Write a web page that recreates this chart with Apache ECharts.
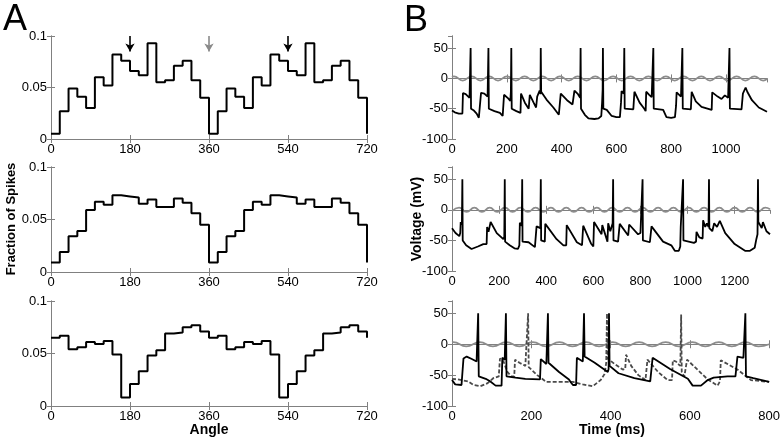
<!DOCTYPE html>
<html><head><meta charset="utf-8">
<script src="https://cdn.jsdelivr.net/npm/echarts@6/dist/echarts.min.js"></script>
<style>html,body{margin:0;padding:0;background:#fff}#c{width:783px;height:439px}</style>
</head><body><div id="c"></div>
<script>
// ---------- Panel A: phase histograms (one 360° cycle, shown twice) ----------
const angleBins = [0,20,40,60,80,100,120,140,160,180,200,220,240,260,280,300,320,340,
                   360,380,400,420,440,460,480,500,520,540,560,580,600,620,640,660,680,700];
const histTop = [0.005,0.027,0.049,0.041,0.030,0.060,0.052,0.082,0.076,0.066,0.062,0.093,0.055,0.057,0.071,0.076,0.057,0.040];
const histMid = [0.009,0.019,0.034,0.039,0.059,0.067,0.064,0.073,0.072,0.071,0.065,0.069,0.062,0.062,0.070,0.066,0.056,0.045];
const histBot = [0.065,0.067,0.054,0.056,0.061,0.059,0.062,0.049,0.008,0.021,0.033,0.048,0.053,0.069,0.070,0.075,0.077,0.071];
const arrowAngles = [180,360,540];

// ---------- Panel B: voltage traces [time ms, mV] ----------
const voltTop = [[0,-53],[10,-56],[25,-58],[38,-58],[40,-24],[50,-26],[64,-32],[67,-30],[68,50],[69.5,-50],[80,-53],[90,-58],[98,-65],[104,-66],[106,-24],[118,-25],[130,-30],[132,-28],[133,50],[134.5,-50],[155,-54],[175,-57],[185,-62],[188,-64],[190,-27],[205,-33],[213,-37],[215,-22],[216.5,50],[218,-50],[235,-54],[250,-57],[252,-25],[266,-40],[280,-50],[282,-52],[284,-27],[298,-40],[307,-48],[309,-50],[311,-30],[320,-20],[323,-26],[324,50],[325.5,-22],[345,-35],[370,-48],[390,-60],[394,-62],[397,-25],[420,-36],[440,-43],[445,-45],[447,-20],[460,-26],[468,-32],[469.5,50],[471,-50],[485,-60],[498,-66],[520,-67],[535,-66],[545,-62],[548,-40],[550,-18],[551,50],[552.5,-50],[565,-52],[583,-62],[600,-64],[613,-64],[617,-40],[619,-21],[627,-25],[629,50],[630.5,-50],[662,-51],[664,-52],[666,-22],[685,-40],[702,-50],[707,-54],[709,-22],[720,-27],[729,-31],[733,-30],[735,50],[736.5,-50],[771,-52],[783,-64],[800,-65],[814,-64],[818,-45],[820,-23],[836,-30],[840,-28],[841,50],[842.5,-50],[872,-51],[875,-22],[890,-38],[911,-47],[948,-52],[950,-23],[970,-30],[984,-34],[996,-28],[1008,-32],[1012,-30],[1013,50],[1014.5,-50],[1057,-51],[1062,-25],[1065,-22],[1072,-15],[1078,-22],[1095,-36],[1120,-48],[1150,-55]];
const voltMid = [[0,-30],[15,-38],[31,-43],[35,-38],[37,-20],[42,-24],[44,50],[45.5,-50],[60,-58],[83,-64],[110,-60],[133,-56],[147,-56],[149,-28],[155,-36],[158,-34],[164,-20],[190,-38],[218,-48],[222,-44],[224,50],[225.5,-52],[245,-58],[265,-63],[280,-64],[286,-58],[288,-21],[296,-26],[298,50],[299.5,-52],[325,-53],[352,-61],[357,-60],[359,-27],[375,-30],[377,50],[378.5,-50],[394,-52],[396,-23],[444,-48],[473,-58],[485,-58],[487,-25],[530,-53],[552,-58],[557,-26],[590,-55],[600,-60],[603,-20],[635,-40],[638,-25],[660,-52],[663,-22],[672,-35],[678,-36],[682,-22],[684,50],[685.5,-50],[705,-52],[710,-53],[712,-23],[748,-42],[752,-24],[790,-40],[800,-38],[807,-40],[809,50],[810.5,-50],[840,-53],[845,-54],[847,-27],[896,-52],[931,-58],[946,-67],[963,-67],[969,-60],[971,-28],[979,-30],[981,50],[982.5,-50],[1027,-54],[1036,-52],[1038,-36],[1050,-45],[1064,-47],[1066,-17],[1075,-28],[1082,-22],[1089,-28],[1091,50],[1092.5,-30],[1105,-35],[1110,-38],[1113,-22],[1125,-28],[1133,-30],[1137,-18],[1160,-38],[1200,-56],[1244,-67],[1265,-67],[1285,-62],[1292,-48],[1297,-40],[1299,50],[1300.5,-20],[1315,-30],[1320,-20],[1335,-35],[1350,-40]];
const voltBotA = [[0,-58],[8,-65],[24,-66],[27,-40],[29,-23],[37,-20],[50,-24],[62,-28],[65,-30],[66,50],[67.5,-52],[85,-56],[96,-60],[110,-67],[125,-67],[127,-22],[133,-25],[135,-28],[136,50],[137.5,-52],[160,-54],[185,-56],[222,-57],[224,-24],[238,-32],[241,-30],[242,50],[243.5,-30],[270,-45],[295,-57],[300,-62],[305,-66],[313,-66],[315,-22],[330,-28],[332,-26],[333,50],[334.5,-20],[360,-30],[393,-45],[395,-40],[396,50],[397.5,-35],[420,-47],[460,-55],[500,-60],[504,-63],[506,-22],[550,-40],[595,-56],[607,-67],[628,-67],[645,-58],[660,-54],[695,-52],[698,-50],[715,-52],[718,-55],[720,-20],[735,-22],[739,-24],[740,50],[741.5,-52],[760,-55],[800,-61]];
const voltBotB = [[0,-56],[15,-57],[40,-60],[54,-66],[71,-68],[90,-63],[104,-55],[118,-52],[121,-23],[130,-28],[140,-45],[150,-52],[157,-52],[159,-25],[170,-30],[185,-35],[190,-36],[192,50],[193.5,-37],[215,-50],[238,-61],[305,-61],[330,-65],[355,-68],[375,-58],[385,-48],[389,-30],[391,50],[392.5,-23],[410,-32],[431,-41],[437,-40],[439,-17],[452,-35],[470,-50],[488,-58],[491,-58],[493,-25],[520,-45],[544,-58],[555,-58],[557,-26],[565,-28],[570,-32],[576,-35],[578,48],[579.5,-45],[586,-52],[591,-50],[593,-25],[645,-57],[670,-67],[676,-60],[678,-26],[720,-41],[754,-58],[800,-61]];
// stimulus (gray) extrema [time ms, mV]
const stimTop = [[0,2.5],[7,3.5],[39,-3.5],[72,3.5],[104,-3.5],[136,3.5],[168,-3.5],[201,3.5],[233,-3.5],[265,3.5],[297,-3.5],[330,3.5],[362,-3.5],[394,3.5],[426,-3.5],[459,3.5],[491,-3.5],[523,3.5],[555,-3.5],[588,3.5],[620,-3.5],[652,3.5],[684,-3.5],[717,3.5],[749,-3.5],[781,3.5],[813,-3.5],[846,3.5],[878,-3.5],[910,3.5],[942,-3.5],[975,3.5],[1007,-3.5],[1039,3.5],[1071,-3.5],[1104,3.5],[1136,-3.5],[1150,-1]];
const stimMid = [[0,-2],[30,3.5],[62,-3.5],[95,3.5],[127,-3.5],[160,3.5],[192,-3.5],[225,3.5],[257,-3.5],[290,3.5],[322,-3.5],[355,3.5],[387,-3.5],[420,3.5],[452,-3.5],[485,3.5],[517,-3.5],[550,3.5],[582,-3.5],[615,3.5],[647,-3.5],[680,3.5],[712,-3.5],[745,3.5],[777,-3.5],[810,3.5],[842,-3.5],[875,3.5],[907,-3.5],[940,3.5],[972,-3.5],[1005,3.5],[1037,-3.5],[1070,3.5],[1102,-3.5],[1135,3.5],[1167,-3.5],[1200,3.5],[1232,-3.5],[1265,3.5],[1297,-3.5],[1330,3.5],[1350,1]];
const stimBot = [[0,3.3],[3,3.5],[36,-3.5],[70,3.5],[103,-3.5],[137,3.5],[170,-3.5],[204,3.5],[237,-3.5],[271,3.5],[304,-3.5],[338,3.5],[371,-3.5],[405,3.5],[438,-3.5],[472,3.5],[505,-3.5],[539,3.5],[572,-3.5],[606,3.5],[639,-3.5],[673,3.5],[706,-3.5],[740,3.5],[773,-3.5],[800,0]];
const timeMax = [1150,1350,800];

// ---------- layout ----------
const FONT = 'Liberation Sans, Arial, Helvetica, sans-serif';
const AXC = '#808080';
const grids = [
  {left:51, top:36, width:316, height:103},
  {left:51, top:167, width:316, height:105},
  {left:51, top:301, width:316, height:105},
  {left:452, top:36, width:315, height:103},
  {left:452, top:167, width:318, height:104},
  {left:452, top:301, width:318, height:105}
];
const xAxes = [], yAxes = [];
const plain = v => String(v);
function addAxes(min, max, interval, ymin, ymax, yint, showMaxX, showMaxY) {
  const g = xAxes.length / 2;
  const line = {show:true, lineStyle:{color:AXC, width:1}};
  const tick = {show:true, inside:true, length:4, lineStyle:{color:AXC}};
  xAxes.push({gridIndex:g, type:'value', position:'bottom', min, max, interval, axisLine:line, axisTick:tick,
    axisLabel:{show:true, fontFamily:FONT, fontSize:13, color:'#000', margin:4, showMaxLabel:showMaxX, formatter:plain},
    splitLine:{show:false}});
  xAxes.push({gridIndex:g, type:'value', position:'top', min, max, interval, axisLine:line, axisTick:tick,
    axisLabel:{show:false}, splitLine:{show:false}});
  yAxes.push({gridIndex:g, type:'value', position:'left', min:ymin, max:ymax, interval:yint, axisLine:line, axisTick:tick,
    axisLabel:{show:true, fontFamily:FONT, fontSize:13, color:'#000', margin:4, showMaxLabel:showMaxY, formatter:plain},
    splitLine:{show:false}});
  yAxes.push({gridIndex:g, type:'value', position:'right', min:ymin, max:ymax, interval:yint, axisLine:line, axisTick:tick,
    axisLabel:{show:false}, splitLine:{show:false}});
}
for (let i = 0; i < 3; i++) addAxes(0, 720, 180, 0, 0.1, 0.05, true, true);
for (let i = 0; i < 3; i++) addAxes(0, timeMax[i], 200, -100, 70, 50, timeMax[i] % 200 === 0, false);

function histData(vals) {
  const full = vals.concat(vals);
  const d = angleBins.map((a, i) => [a, full[i]]);
  d.push([720, full[0]]);
  return d;
}
const series = [];
[histTop, histMid, histBot].forEach((h, g) => {
  const s = {type:'line', step:'end', xAxisIndex:2*g, yAxisIndex:2*g, data:histData(h), showSymbol:false,
    lineStyle:{color:'#000', width:2}, silent:true};
  if (g === 0) {
    s.markLine = {silent:true, symbol:['none','arrow'], symbolSize:[7,8], label:{show:false}, animation:false,
      data: arrowAngles.map(a => {
        const c = a === 360 ? '#8a8a8a' : '#000';
        return [{coord:[a,0.1], lineStyle:{color:c, width:1.6, type:'solid'}, itemStyle:{color:c}},
                {coord:[a,0.085], lineStyle:{color:c, width:1.6, type:'solid'}, itemStyle:{color:c}}];
      })};
  }
  series.push(s);
});
const stims = [stimTop, stimMid, stimBot];
const volts = [voltTop, voltMid, voltBotA];
for (let i = 0; i < 3; i++) {
  const g = 3 + i;
  series.push({type:'line', xAxisIndex:2*g, yAxisIndex:2*g, data:stims[i], smooth:0.5, smoothMonotone:'x', showSymbol:false,
    lineStyle:{color:'#8c8c8c', width:1.8}, silent:true});
  if (i === 2) {
    series.push({type:'line', xAxisIndex:2*g, yAxisIndex:2*g, data:voltBotB, showSymbol:false,
      lineStyle:{color:'#4a4a4a', width:1.8, type:[4,2]}, silent:true});
  }
  series.push({type:'line', xAxisIndex:2*g, yAxisIndex:2*g, data:volts[i], showSymbol:false,
    lineStyle:{color:'#000', width:1.8}, silent:true});
}

const txt = (x, y, s, size, weight, rot) => ({type:'text', x, y, rotation:rot || 0,
  style:{text:s, fontFamily:FONT, fontSize:size, fontWeight:weight, fill:'#000', align:'center', verticalAlign:'middle'}});

const chart = echarts.init(document.getElementById('c'), null, {renderer:'canvas'});
chart.setOption({
  animation:false,
  backgroundColor:'#fff',
  grid:grids,
  xAxis:xAxes,
  yAxis:yAxes,
  series,
  graphic:[
    txt(15, 20, 'A', 36, 'normal'),
    txt(416, 21, 'B', 36, 'normal'),
    txt(11, 219, 'Fraction of Spikes', 13, 'bold', Math.PI/2),
    txt(417, 219, 'Voltage (mV)', 14, 'bold', Math.PI/2),
    txt(209, 430, 'Angle', 14, 'bold'),
    txt(612, 430, 'Time (ms)', 14, 'bold')
  ]
});
</script></body></html>
